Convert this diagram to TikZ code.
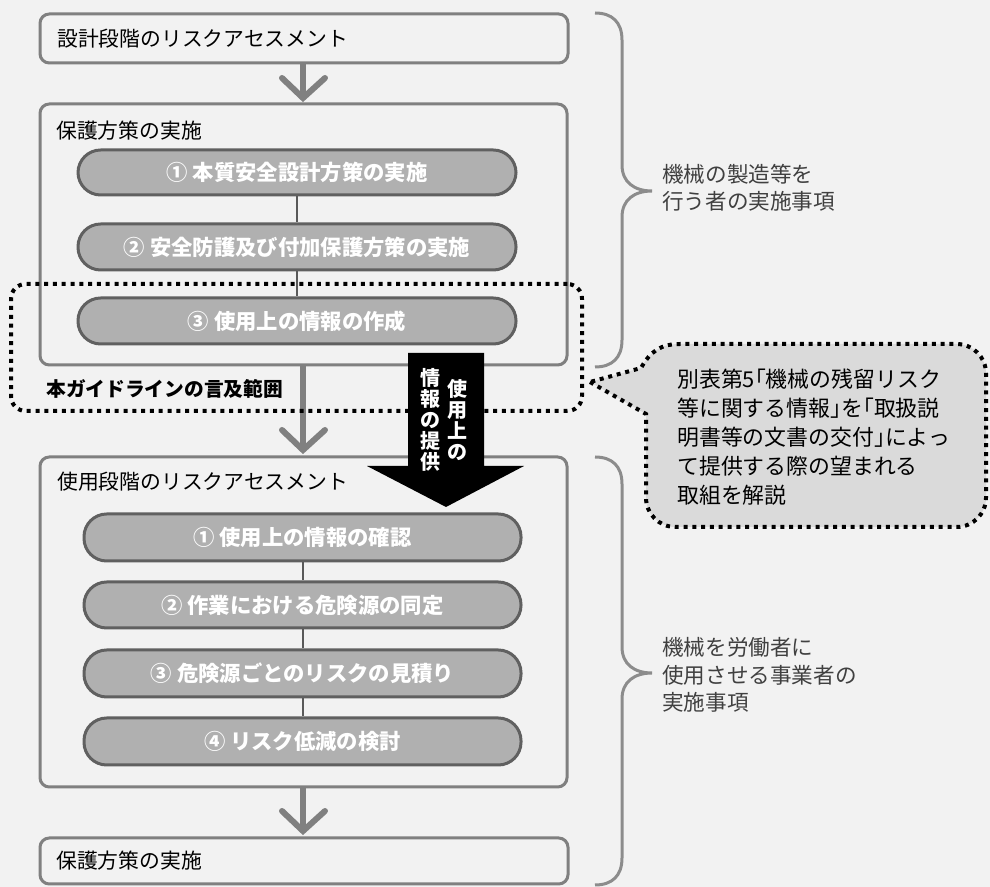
\documentclass[tikz,border=0pt]{standalone}
\usepackage{fontspec}
\setmainfont{Noto Sans CJK JP}
\newfontfamily\jph[RawFeature=+halt]{Noto Sans CJK JP}
\newcommand{\jlq}{{\jph 「}}
\newcommand{\jrq}{{\jph 」}}
\usetikzlibrary{fit,calc}
\definecolor{bgc}{HTML}{F2F2F2}
\definecolor{boxc}{HTML}{808080}
\definecolor{pillfill}{HTML}{B0B0B0}
\definecolor{pillline}{HTML}{606060}
\definecolor{connc}{HTML}{595959}
\definecolor{chevc}{HTML}{808080}
\definecolor{bracec}{HTML}{8C8C8C}
\definecolor{notec}{HTML}{404040}
\definecolor{bubblec}{HTML}{DADADA}
\begin{document}
\begin{tikzpicture}[x=0.75pt,y=-0.75pt,
  box/.style={draw=boxc, line width=2.25pt, rounded corners=7pt, fill=bgc, inner sep=0pt},
  pill/.style={draw=pillline, fill=pillfill, line width=2.25pt, rounded corners=17pt, inner sep=0pt},
  pilltext/.style={inner sep=0pt, text=white, font=\bfseries\fontsize{16}{18}\selectfont},
  title/.style={anchor=west, inner sep=0pt, text=black, font=\fontsize{15.6}{18}\selectfont},
  conn/.style={draw=connc, line width=1.5pt},
  chev/.style={draw=chevc, line width=4.5pt, line cap=round, line join=miter},
  shaft/.style={draw=chevc, line width=4.5pt, line cap=butt},
  dotline/.style={draw=black, line width=3pt, dash pattern=on 3pt off 3.6pt},
  brace/.style={draw=bracec, line width=2.25pt},
  note/.style={anchor=west, align=left, inner sep=0pt, text=notec, font=\fontsize{16.2}{20.5}\selectfont},
  vtext/.style={align=center, inner sep=0pt, text=white, font=\bfseries\fontsize{15}{15.75}\selectfont}
]
\fill[bgc] (0,0) rectangle (990,887);
\useasboundingbox (0,0) rectangle (990,887);

% tips of the grey chevron arrows
\coordinate (t1) at (303,98);
\coordinate (t2) at (303,450);
\coordinate (t3) at (303,831);

% boxes
\node[box, fit={(40,14) (568,63)}] (b1) {};
\node[box, fit={(40,104) (567,365)}] (b2) {};
\node[box, fit={(40,457) (567,787)}] (b3) {};
\node[box, fit={(40,838) (568,884)}] (b4) {};

% arrows between boxes
\draw[shaft] (b1.south -| t1) -- ($(t1)+(0,-4)$);
\draw[chev] ($(t1)+(-21,-20)$) -- (t1) -- ($(t1)+(22,-20)$);
\draw[shaft] (b2.south -| t2) -- ($(t2)+(0,-4)$);
\draw[chev] ($(t2)+(-21,-20)$) -- (t2) -- ($(t2)+(22,-20)$);
\draw[shaft] (b3.south -| t3) -- ($(t3)+(0,-4)$);
\draw[chev] ($(t3)+(-21,-20)$) -- (t3) -- ($(t3)+(22,-20)$);

% titles
\node[title] (tt1) at (57,39) {設計段階のリスクアセスメント};
\node[title] (tt2) at (56,131) {保護方策の実施};
\node[title] (tt3) at (57,482) {使用段階のリスクアセスメント};
\node[title] (tt4) at (56,861) {保護方策の実施};

% pills in the upper box
\node[pill, fit={(78,150) (516,195)}, label={[pilltext]center:① 本質安全設計方策の実施}] (p1) {};
\node[pill, fit={(78,224) (516,270)}, label={[pilltext]center:② 安全防護及び付加保護方策の実施}] (p2) {};
\node[pill, fit={(78,298) (516,344)}, label={[pilltext]center:③ 使用上の情報の作成}] (p3) {};
\draw[conn] (p1.south) -- (p2.north);
\draw[conn] (p2.south) -- (p3.north);

% pills in the lower box
\node[pill, fit={(84,514) (521,561)}, label={[pilltext]center:① 使用上の情報の確認}] (q1) {};
\node[pill, fit={(84,582) (521,628)}, label={[pilltext]center:② 作業における危険源の同定}] (q2) {};
\node[pill, fit={(84,650) (521,697)}, label={[pilltext]center:③ 危険源ごとのリスクの見積り}] (q3) {};
\node[pill, fit={(84,718) (521,765)}, label={[pilltext]center:④ リスク低減の検討}] (q4) {};
\draw[conn] (q1.south) -- (q2.north);
\draw[conn] (q2.south) -- (q3.north);
\draw[conn] (q3.south) -- (q4.north);

% dotted scope
\node[dotline, rounded corners=11pt, inner sep=0pt, fit={(11,284) (582,411)}] (scope) {};
\node[anchor=west, inner sep=0pt, font=\bfseries\fontsize{14.8}{17}\selectfont] (scopelbl) at (46,389) {本ガイドラインの言及範囲};

% callout bubble
\coordinate (ctip) at (590,382);
\draw[dotline, fill=bubblec] (ctip) -- (646,414) [rounded corners=22pt] -- (646,527) -- (986,527) -- (986,344) [sharp corners] -- (680,344) .. controls (660,344) and (650,352) .. (641,368) -- cycle;
\node[anchor=west, align=left, inner sep=0pt, text=black, font=\fontsize{16.4}{21.75}\selectfont] (bubtxt) at (677,437)
  {別表第5\jlq 機械の残留リスク\\等に関する情報\jrq を\jlq 取扱説\\明書等の文書の交付\jrq によっ\\て提供する際の望まれる\\取組を解説};

% braces
\draw[brace] (595,13) .. controls (612,13) and (622,22) .. (622,40) -- (622,165)
  .. controls (622,182) and (634,191) .. (652,191)
  .. controls (634,191) and (622,200) .. (622,217) -- (622,340)
  .. controls (622,358) and (612,367) .. (595,367);
\draw[brace] (595,457) .. controls (612,457) and (622,466) .. (622,484) -- (622,647)
  .. controls (622,664) and (634,673) .. (652,673)
  .. controls (634,673) and (622,682) .. (622,699) -- (622,858)
  .. controls (622,876) and (612,885) .. (595,885);
\node[note] (n1) at (662,188) {機械の製造等を\\行う者の実施事項};
\node[note] (n2) at (662,675) {機械を労働者に\\使用させる事業者の\\実施事項};

% black arrow: provision of information for use
\fill[black] (408,353) -- (484,353) -- (484,466) -- (524,466) -- (446,507) -- (367,466) -- (408,466) -- cycle;
\node[vtext] (va) at (457,420) {使\\用\\上\\の};
\node[vtext] (vb) at (430,420) {情\\報\\の\\提\\供};
\end{tikzpicture}
\end{document}
